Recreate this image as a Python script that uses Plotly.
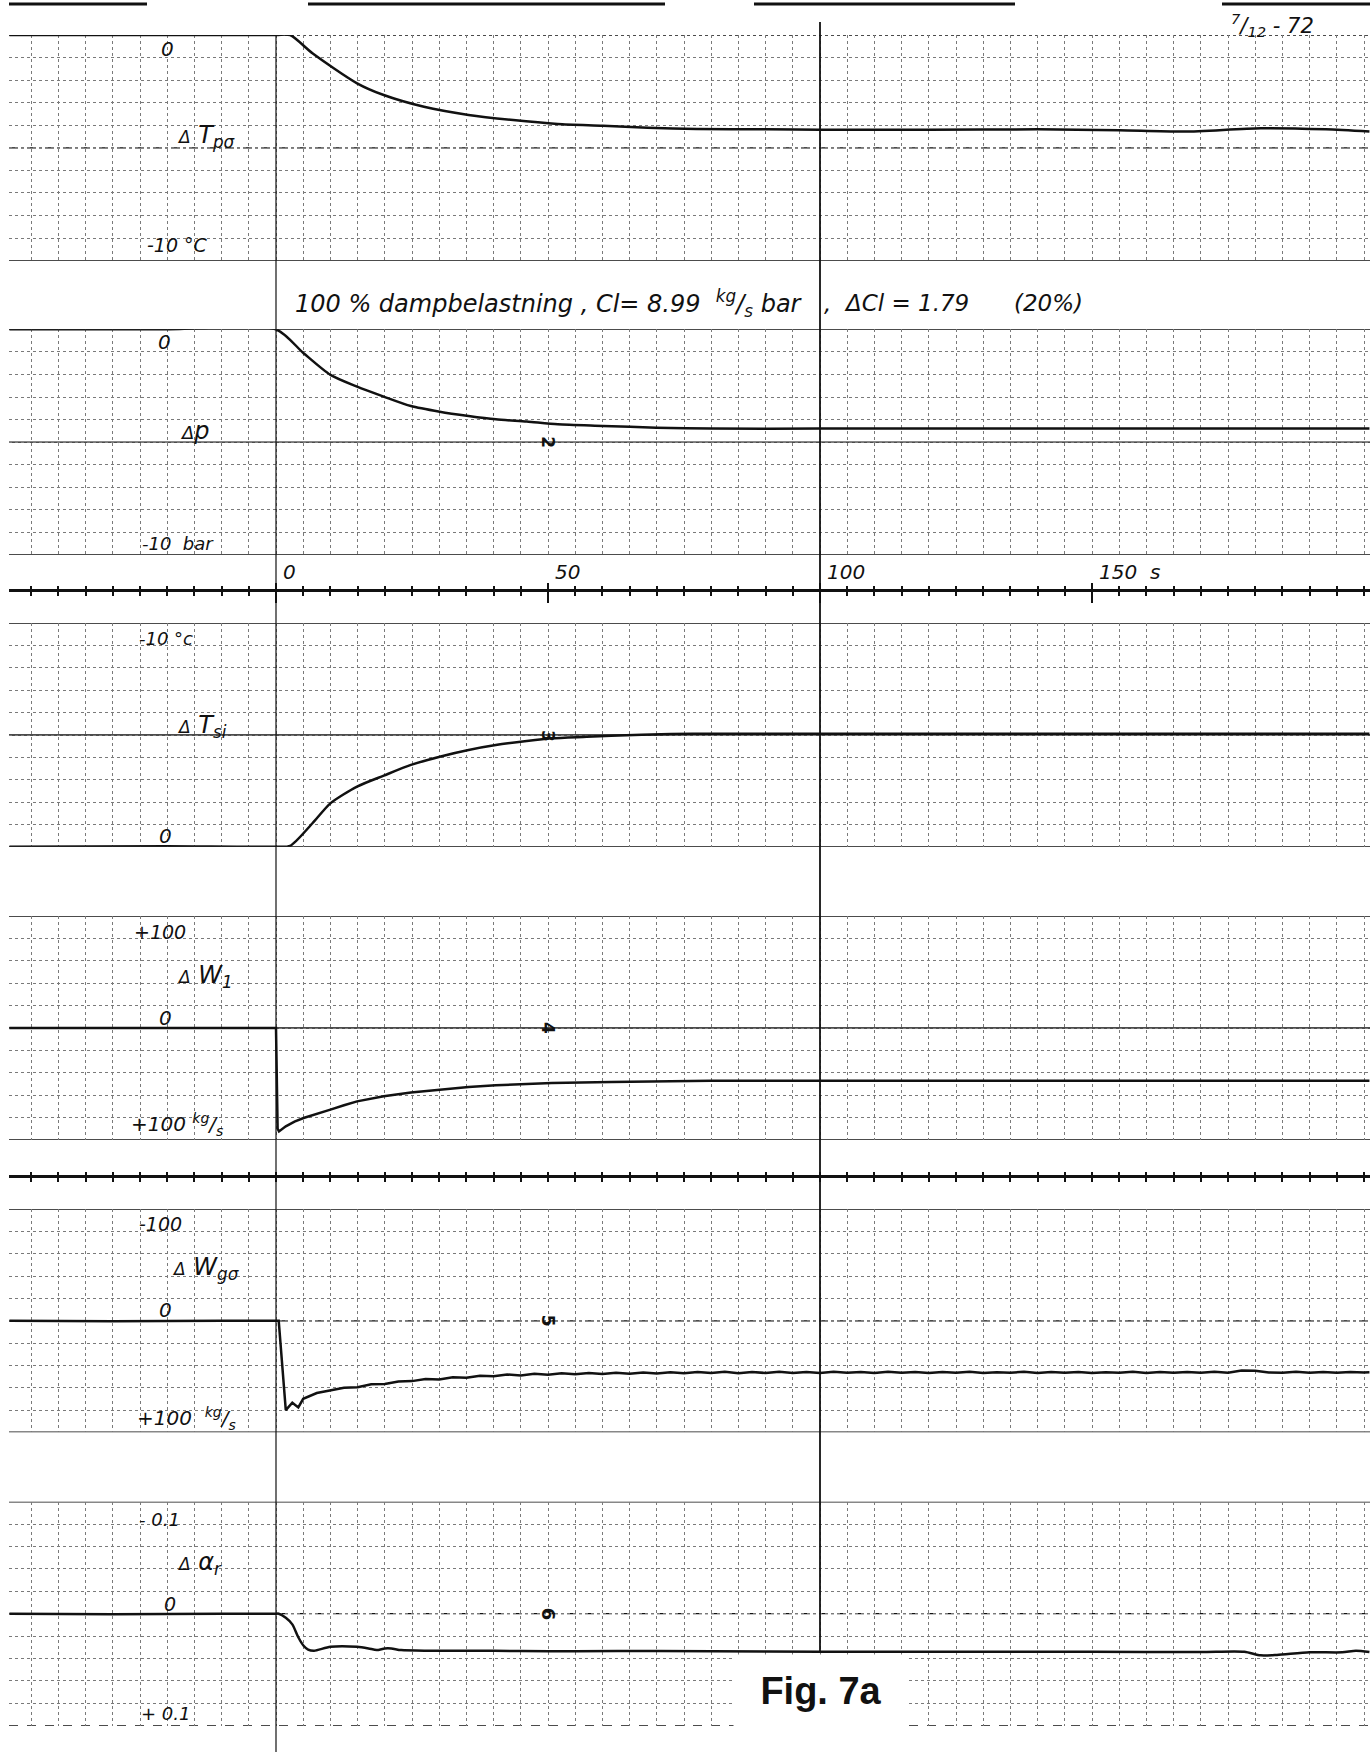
import plotly.graph_objects as go

# ---------------- data ----------------
# time in s, values in the units of each channel
t_tpu = [-49, -20, 0, 2.6, 6.7, 14.9, 19.8, 27.2, 35.4, 43.6, 51.8, 60.1, 68.3, 77.3,
         90, 100, 120, 140, 155, 167, 181, 193, 201]
v_tpu = [0, 0, 0, 0, -0.81, -2.14, -2.66, -3.18, -3.54, -3.77, -3.94, -4.02, -4.11, -4.16,
         -4.18, -4.2, -4.2, -4.18, -4.22, -4.28, -4.13, -4.18, -4.28]

t_p = [-49, -20, 0, 5.07, 10.0, 14.9, 19.8, 24.8, 30.1, 35.4, 40.4, 46.1, 51.8, 60.1,
       69.9, 80, 100, 130, 160, 201]
v_p = [0, 0, 0, -1.06, -2.02, -2.54, -2.98, -3.40, -3.65, -3.84, -3.99, -4.09, -4.21, -4.28,
       -4.36, -4.40, -4.40, -4.40, -4.40, -4.40]

t_tsi = [-49, -20, 0, 2.6, 6.7, 10.0, 14.9, 19.8, 24.8, 30.1, 35.4, 40.4, 46.1, 50.7,
         57.1, 61.6, 72.6, 80, 100, 140, 201]
v_tsi = [0, -0.02, 0, -0.04, -1.05, -1.94, -2.69, -3.18, -3.66, -4.03, -4.33, -4.55, -4.73,
         -4.85, -4.92, -4.97, -5.04, -5.06, -5.06, -5.06, -5.06]

t_w1 = [-49, 0, 0.3, 0.55, 1.8, 3.4, 5.07, 7.5, 10.0, 12.5, 14.9, 19.8, 24.8, 30.1, 35.4,
        40.4, 46.1, 50.7, 61.6, 72.6, 80, 100, 140, 201]
v_w1 = [0, 0, 90.0, 92.3, 87.8, 83.6, 80.4, 76.4, 72.9, 69.0, 65.5, 61.0, 57.5, 55.1, 52.7,
        51.2, 50.0, 49.1, 48.2, 47.3, 47.0, 47.0, 47.0, 47.0]

t_wgo = [-49, -30, -10, 0, 0.5, 1.8, 3.0, 4.1, 5, 7.5, 10, 12.5, 15, 17.5, 20, 22.5, 25,
         27.5, 30, 32.5, 35, 37.5, 40, 42.5, 45, 47.5, 50, 52.5, 55, 57.5, 60, 62.5, 65,
         67.5, 70, 72.5, 75, 77.5, 80, 82.5, 85, 87.5, 90, 92.5, 95, 97.5, 100, 102.5, 105,
         107.5, 110, 112.5, 115, 117.5, 120, 122.5, 125, 127.5, 130, 132.5, 135, 137.5, 140,
         142.5, 145, 147.5, 150, 152.5, 155, 157.5, 160, 162.5, 165, 167.5, 170, 172.5, 175,
         177.5, 180, 182.5, 185, 187.5, 190, 192.5, 195, 197.5, 200, 201]
v_wgo = [0, 0.5, 0, 0, 0, 80.1, 73.5, 77.7, 70.0, 64.8, 62.6, 60.1, 59.6, 56.9, 56.6, 54.4,
         54.1, 52.2, 52.6, 50.7, 51.0, 49.3, 49.8, 48.2, 49.0, 47.6, 48.4, 47.1, 48.0, 46.9,
         47.7, 46.6, 47.5, 46.4, 47.3, 46.2, 47.1, 45.9, 46.9, 45.8, 47.0, 46.0, 46.8, 45.7,
         46.9, 45.9, 46.8, 45.8, 46.7, 46.0, 46.9, 45.7, 46.6, 45.9, 46.8, 46.0, 46.7, 45.8,
         46.9, 46.1, 46.6, 45.7, 46.8, 46.0, 46.7, 45.9, 46.9, 46.1, 46.6, 45.8, 46.8, 46.0,
         46.7, 45.9, 46.6, 45.8, 46.5, 44.6, 44.9, 46.4, 46.6, 45.8, 46.7, 45.9, 46.6, 45.9,
         46.4, 46.2]

t_alpha = [-49, -30, -10, 0, 0.5, 1.8, 3.0, 4.1, 5.07, 5.9, 7.0, 10.0, 14.9, 17, 18.5, 20,
           21.2, 23, 28, 35, 45, 55, 70, 90, 110, 130, 150, 170, 178, 181, 184, 190, 196,
           198.5, 201]
v_alpha = [0, 0.0005, 0, 0, 0, 0.0036, 0.0095, 0.021, 0.0286, 0.032, 0.0330, 0.0295,
           0.0295, 0.031, 0.0325, 0.031, 0.031, 0.0325, 0.033, 0.0330, 0.0333, 0.0335,
           0.0333, 0.0338, 0.034, 0.034, 0.034, 0.0342, 0.034, 0.0372, 0.0368, 0.0345,
           0.0345, 0.0330, 0.0342]

time_ticks = [0, 50, 100, 150]
time_labels = ["0", "50", "100", "150  s"]

# ---------------- layout geometry ----------------
W, H = 1372, 1755
XL, XR = 9, 1370
T0_PX, PX_PER_S = 276, 5.44
xrange_ = [(XL - T0_PX) / PX_PER_S, (XR - T0_PX) / PX_PER_S]
xdom = [XL / W, XR / W]


def py(px):
    return 1 - px / H


INK = "#111111"
GRID = "#7a7a7a"
HAND = "DejaVu Sans"

panels = [
    dict(t=t_tpu, v=v_tpu, top=35, bot=260.7, rng=[-10, 0], dt=1, mid=-5, shape="spline",
         topdash="dot", botdash="solid", middash="dashdot"),
    dict(t=t_p, v=v_p, top=329.3, bot=555, rng=[-10, 0], dt=1, mid=-5, shape="spline",
         topdash="solid", botdash="solid", middash="solid"),
    dict(t=t_tsi, v=v_tsi, top=623.3, bot=846.7, rng=[0, -10], dt=1, mid=-5, shape="spline",
         topdash="solid", botdash="solid", middash="solid"),
    dict(t=t_w1, v=v_w1, top=916, bot=1140, rng=[100, -100], dt=20, mid=0, shape="linear",
         topdash="solid", botdash="solid", middash="solid"),
    dict(t=t_wgo, v=v_wgo, top=1209.3, bot=1432.3, rng=[100, -100], dt=20, mid=0,
         shape="linear", topdash="solid", botdash="solid", middash="dashdot"),
    dict(t=t_alpha, v=v_alpha, top=1501.7, bot=1725.7, rng=[0.1, -0.1], dt=0.02, mid=0,
         shape="spline", topdash="solid", botdash="dash", middash="dashdot"),
]

fig = go.Figure()
layout = dict(
    width=W, height=H, margin=dict(l=0, r=0, t=0, b=0),
    paper_bgcolor="white", plot_bgcolor="white", showlegend=False,
)
shapes = []
annotations = []

for i, p in enumerate(panels, start=1):
    xa, ya = f"x{i}", f"y{i}"
    line = dict(color=INK, width=2.5, shape=p["shape"])
    if p["shape"] == "spline":
        line["smoothing"] = 0.7
    fig.add_trace(go.Scatter(x=p["t"], y=p["v"], mode="lines", line=line,
                             xaxis=xa, yaxis=ya, hoverinfo="skip"))
    layout[f"xaxis{i}"] = dict(
        domain=xdom, range=xrange_, anchor=ya, showgrid=True, gridcolor=GRID,
        griddash="dot", gridwidth=1, dtick=5, tick0=0, showticklabels=False,
        ticks="", zeroline=False, showline=False, fixedrange=True,
    )
    layout[f"yaxis{i}"] = dict(
        domain=[py(p["bot"]), py(p["top"])], range=p["rng"], anchor=xa,
        showgrid=True, gridcolor=GRID, griddash="dot", gridwidth=1, dtick=p["dt"],
        tick0=0, showticklabels=False, ticks="", zeroline=False, showline=False,
        fixedrange=True,
    )
    for yy, dash, wdt in ((p["rng"][0], p["botdash"], 1.4), (p["rng"][1], p["topdash"], 1.4),
                          (p["mid"], p["middash"], 1.3)):
        shapes.append(dict(type="line", xref="paper", x0=xdom[0], x1=xdom[1],
                           yref=ya, y0=yy, y1=yy, layer="below",
                           line=dict(color=INK, width=wdt, dash=dash)))

# time axis (with ticks on both sides) and the lower divider line
for k, (ypx, lw) in enumerate(((589, 3), (1175, 3))):
    xa_out, xa_in, yax = 7 + 2 * k, 8 + 2 * k, 13 + k
    for xa in (xa_out, xa_in):
        fig.add_trace(go.Scatter(x=[None], y=[None], xaxis=f"x{xa}", yaxis=f"y{yax}",
                                 hoverinfo="skip"))
    major = time_ticks if k == 0 else []
    layout[f"xaxis{xa_out}"] = dict(
        domain=xdom, range=xrange_, anchor=f"y{yax}", showline=True, linewidth=lw,
        linecolor=INK, showgrid=False, zeroline=False, showticklabels=False,
        ticks="outside", tickvals=major, ticklen=11, tickwidth=2, tickcolor=INK,
        minor=dict(dtick=5, tick0=0, ticks="outside", ticklen=4, tickwidth=1.5,
                   tickcolor=INK, showgrid=False),
        fixedrange=True,
    )
    layout[f"xaxis{xa_in}"] = dict(
        domain=xdom, range=xrange_, anchor=f"y{yax}", overlaying=f"x{xa_out}",
        showline=False, showgrid=False, zeroline=False, showticklabels=False,
        ticks="inside", tickvals=major, ticklen=6, tickwidth=2, tickcolor=INK,
        minor=dict(dtick=5, tick0=0, ticks="inside", ticklen=3, tickwidth=1.5,
                   tickcolor=INK, showgrid=False),
        fixedrange=True,
    )
    layout[f"yaxis{yax}"] = dict(domain=[py(ypx), py(ypx - 1)], visible=False,
                                 range=[0, 1], fixedrange=True)

# time labels
for tv, tl in zip(time_ticks, time_labels):
    annotations.append(dict(x=tv + 1.0, xref="x1", y=py(572), yref="paper",
                            text=f"<i>{tl}</i>", showarrow=False, xanchor="left",
                            yanchor="middle", font=dict(family=HAND, size=20, color=INK)))

# long vertical lines at t = 0 and t = 100
shapes.append(dict(type="line", xref="x1", x0=0, x1=0, yref="paper", y0=py(1752),
                   y1=py(36), line=dict(color=INK, width=1.2)))
shapes.append(dict(type="line", xref="x1", x0=100, x1=100, yref="paper", y0=py(1652),
                   y1=py(22), line=dict(color=INK, width=1.8)))

# scan artefacts along the top edge
for a, b in ((9, 147), (308, 665), (754, 1015), (1222, 1370)):
    shapes.append(dict(type="line", xref="paper", x0=a / W, x1=b / W, yref="paper",
                       y0=py(4), y1=py(4), line=dict(color=INK, width=3)))


def txt(i, x, y, s, size=19, anchor="left", angle=0, bold=False):
    s = f"<b>{s}</b>" if bold else f"<i>{s}</i>"
    annotations.append(dict(x=x, y=y, xref=f"x{i}", yref=f"y{i}", text=s,
                            showarrow=False, xanchor=anchor, yanchor="middle",
                            textangle=angle, font=dict(family=HAND, size=size, color=INK)))


D = "<span style='font-size:17px'>Δ</span>"
# panel 1
txt(1, -21.5, -0.6, "0", 20)
txt(1, -18.5, -4.5, D + " T<sub>pσ</sub>", 24)
txt(1, -24.0, -9.3, "-10 °C", 19)
# panel 2
txt(2, -22.0, -0.55, "0", 20)
txt(2, -18.0, -4.5, "<span style='font-size:18px'>Δ</span>p", 24)
txt(2, -25.0, -9.5, "-10  bar", 18)
txt(2, 50, -5, "2", 17, anchor="center", angle=90, bold=True)
# panel 3
txt(3, -25.5, -9.3, "-10 °c", 18)
txt(3, -18.5, -5.4, D + " T<sub>si</sub>", 24)
txt(3, -21.8, -0.5, "0", 20)
txt(3, 50, -4.95, "3", 17, anchor="center", angle=90, bold=True)
# panel 4
txt(4, -26.5, -86, "+100", 19)
txt(4, -18.5, -46, D + " W<sub>1</sub>", 24)
txt(4, -21.8, -9, "0", 20)
txt(4, -27.0, 86, "+100 <sup>kg</sup>/<sub>s</sub>", 20)
txt(4, 50, 0, "4", 17, anchor="center", angle=90, bold=True)
# panel 5
txt(5, -25.5, -87, "-100", 19)
txt(5, -19.5, -47, D + " W<sub>gσ</sub>", 24)
txt(5, -21.8, -9.6, "0", 20)
txt(5, -26.0, 88, "+100  <sup>kg</sup>/<sub>s</sub>", 20)
txt(5, 50, 0, "5", 17, anchor="center", angle=90, bold=True)
# panel 6
txt(6, -25.5, -0.084, "- 0.1", 18)
txt(6, -18.5, -0.045, D + " α<sub>r</sub>", 24)
txt(6, -21.0, -0.0085, "0", 19)
txt(6, -25.2, 0.089, "+ 0.1", 18)
txt(6, 50, 0, "6", 18, anchor="center", angle=90, bold=True)

# header notes
annotations.append(dict(x=293 / W, y=py(303), xref="paper", yref="paper", showarrow=False,
                        xanchor="left", yanchor="middle",
                        text="<i>100 % dampbelastning , Cl= 8.99  <sup>kg</sup>/<sub>s</sub> bar</i>",
                        font=dict(family=HAND, size=24, color=INK)))
annotations.append(dict(x=822 / W, y=py(303), xref="paper", yref="paper", showarrow=False,
                        xanchor="left", yanchor="middle", text="<i>,  ΔCl = 1.79</i>",
                        font=dict(family=HAND, size=23, color=INK)))
annotations.append(dict(x=1012 / W, y=py(303), xref="paper", yref="paper", showarrow=False,
                        xanchor="left", yanchor="middle", text="<i>(20%)</i>",
                        font=dict(family=HAND, size=23, color=INK)))
annotations.append(dict(x=1272 / W, y=py(25), xref="paper", yref="paper", showarrow=False,
                        xanchor="center", yanchor="middle",
                        text="<i><sup>7</sup>/<sub>12</sub> - 72</i>",
                        font=dict(family=HAND, size=21, color=INK)))
# figure caption on a blank patch
annotations.append(dict(x=821 / W, y=py(1691), xref="paper", yref="paper", showarrow=False,
                        xanchor="center", yanchor="middle", text="<b>Fig. 7a</b>",
                        width=174, height=72, bgcolor="white", borderpad=0,
                        font=dict(family="Liberation Sans", size=38, color=INK)))

layout["shapes"] = shapes
layout["annotations"] = annotations
fig.update_layout(**layout)
fig.write_html("out.html", config={"displayModeBar": False},
               post_script="document.body.style.margin='0';document.body.style.overflow='hidden';")
